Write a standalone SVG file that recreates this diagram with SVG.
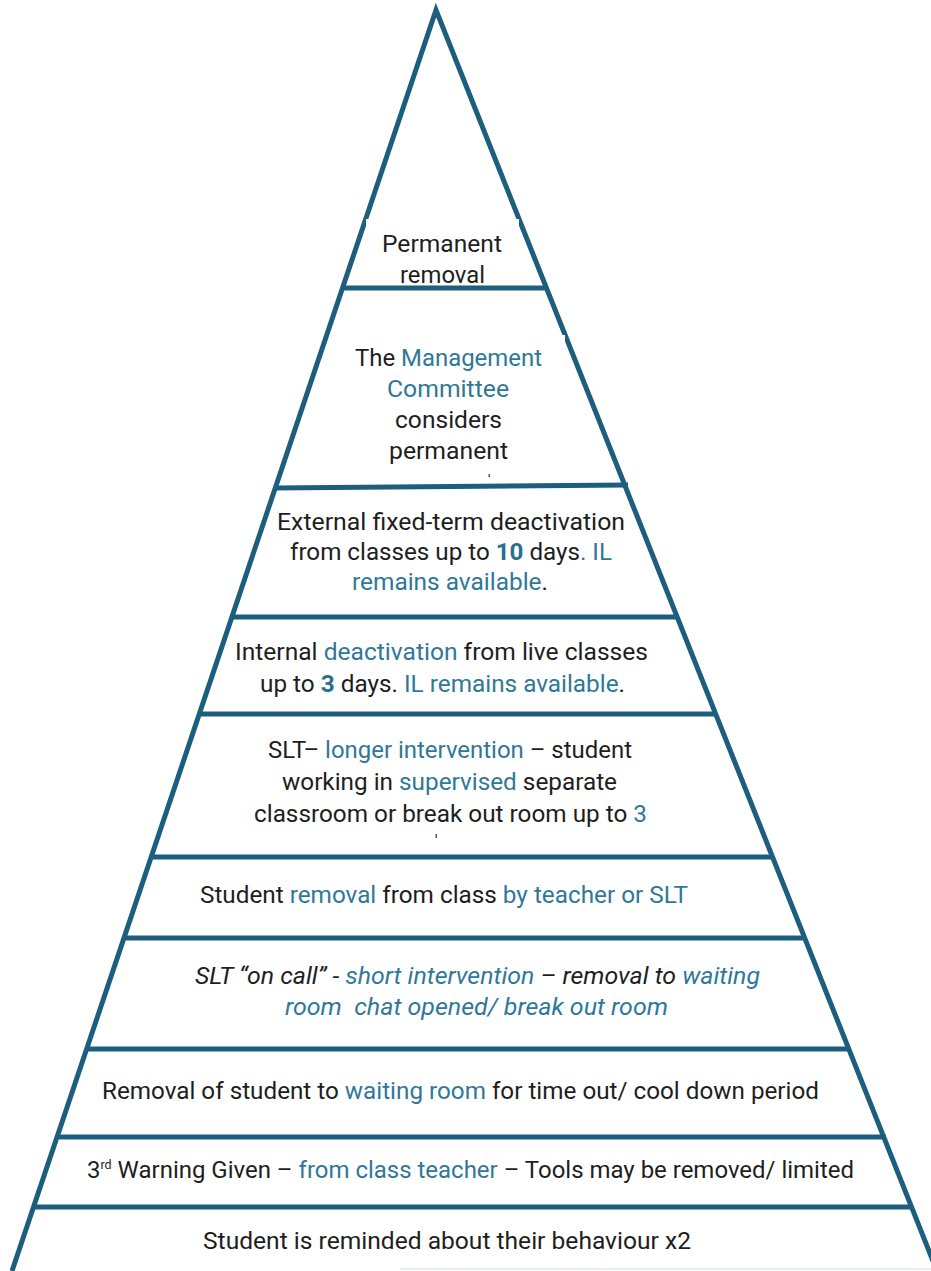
<svg xmlns="http://www.w3.org/2000/svg" width="931" height="1271" viewBox="0 0 931 1271">
  <style>
    .edge { fill: none; stroke: #1d5e7e; stroke-width: 5; stroke-linejoin: miter; stroke-miterlimit: 20; }
    .div { stroke: #1d5e7e; stroke-width: 5; }
    .t { font-family: Roboto, "Liberation Sans", sans-serif; font-size: 23px; fill: #1e1e1e; }
    .it { font-style: italic; }
    .b { fill: #2f7898; }
    .bb { fill: #2a6f8f; font-weight: bold; }
    .cover { fill: #ffffff; }
  </style>
  <rect width="931" height="1271" fill="#ffffff"/>
  <line x1="400" y1="1269" x2="931" y2="1269" stroke="#e6eff4" stroke-width="2"/>

  <g id="connectors">
    <path class="edge" d="M 12 1271 L 436 10 L 937 1271"/>
    <line class="div" x1="342" y1="288" x2="546" y2="288"/>
    <line class="div" x1="274" y1="488" x2="628" y2="485"/>
    <line class="div" x1="233" y1="617" x2="678" y2="617"/>
    <line class="div" x1="201" y1="714" x2="717" y2="714"/>
    <line class="div" x1="153" y1="857" x2="774" y2="857"/>
    <line class="div" x1="126" y1="938" x2="806" y2="938"/>
    <line class="div" x1="88" y1="1049" x2="850" y2="1049"/>
    <line class="div" x1="59" y1="1137" x2="886" y2="1137"/>
    <line class="div" x1="35" y1="1207" x2="912" y2="1207"/>
  </g>

  <g id="tier-permanent-removal">
    <rect class="cover" x="366" y="219" width="153" height="64"/>
    <text class="t" x="382" y="252" textLength="120" lengthAdjust="spacingAndGlyphs">Permanent</text>
    <text class="t" x="400" y="283" textLength="85" lengthAdjust="spacingAndGlyphs">removal</text>
  </g>

  <g id="tier-management-committee">
    <rect class="cover" x="329" y="335" width="236" height="146"/>
    <text class="t" x="355" y="366" textLength="187" lengthAdjust="spacingAndGlyphs">The <tspan class="b">Management</tspan></text>
    <text class="t b" x="387" y="397" textLength="122" lengthAdjust="spacingAndGlyphs">Committee</text>
    <text class="t" x="395" y="428" textLength="107" lengthAdjust="spacingAndGlyphs">considers</text>
    <text class="t" x="389" y="459" textLength="119" lengthAdjust="spacingAndGlyphs">permanent</text>
    <rect x="488.5" y="474" width="1.5" height="3" fill="#555555"/>
  </g>

  <g id="tier-external-deactivation">
    <text class="t" x="277" y="530" textLength="348" lengthAdjust="spacingAndGlyphs">External fixed-term deactivation</text>
    <text class="t" x="290" y="560" textLength="322" lengthAdjust="spacingAndGlyphs">from classes up to <tspan class="bb">10</tspan> days<tspan class="b">. IL</tspan></text>
    <text class="t" x="352" y="590" textLength="196" lengthAdjust="spacingAndGlyphs"><tspan class="b">remains available</tspan>.</text>
  </g>

  <g id="tier-internal-deactivation">
    <text class="t" x="235" y="660" textLength="413" lengthAdjust="spacingAndGlyphs">Internal <tspan class="b">deactivation</tspan> from live classes</text>
    <text class="t" x="260" y="692" textLength="365" lengthAdjust="spacingAndGlyphs">up to <tspan class="bb">3</tspan> days. <tspan class="b">IL remains available</tspan>.</text>
  </g>

  <g id="tier-slt-longer-intervention">
    <text class="t" x="268" y="758" textLength="364" lengthAdjust="spacingAndGlyphs">SLT– <tspan class="b">longer intervention</tspan> – student</text>
    <text class="t" x="282" y="790" textLength="335" lengthAdjust="spacingAndGlyphs">working in <tspan class="b">supervised</tspan> separate</text>
    <text class="t" x="254" y="822" textLength="393" lengthAdjust="spacingAndGlyphs">classroom or break out room up to <tspan class="b">3</tspan></text>
    <rect x="435.5" y="834" width="1.5" height="4" fill="#555555"/>
  </g>

  <g id="tier-student-removal">
    <text class="t" x="200" y="903" textLength="488" lengthAdjust="spacingAndGlyphs">Student <tspan class="b">removal</tspan> from class <tspan class="b">by teacher or SLT</tspan></text>
  </g>

  <g id="tier-slt-on-call">
    <text class="t it" x="195" y="984" textLength="565" lengthAdjust="spacingAndGlyphs">SLT “on call” - <tspan class="b">short intervention</tspan> – removal to <tspan class="b">waiting</tspan></text>
    <text class="t it b" x="285" y="1015" textLength="383" lengthAdjust="spacingAndGlyphs">room&#160; chat opened/ break out room</text>
  </g>

  <g id="tier-waiting-room">
    <text class="t" x="102" y="1099" textLength="717" lengthAdjust="spacingAndGlyphs">Removal of student to <tspan class="b">waiting room</tspan> for time out/ cool down period</text>
  </g>

  <g id="tier-third-warning">
    <text class="t" x="87" y="1178" textLength="767" lengthAdjust="spacingAndGlyphs">3<tspan font-size="12" dy="-9">rd</tspan><tspan dy="9"> Warning Given – </tspan><tspan class="b">from class teacher</tspan> – Tools may be removed/ limited</text>
  </g>

  <g id="tier-reminded">
    <text class="t" x="203" y="1249" textLength="488" lengthAdjust="spacingAndGlyphs">Student is reminded about their behaviour x2</text>
  </g>
</svg>
